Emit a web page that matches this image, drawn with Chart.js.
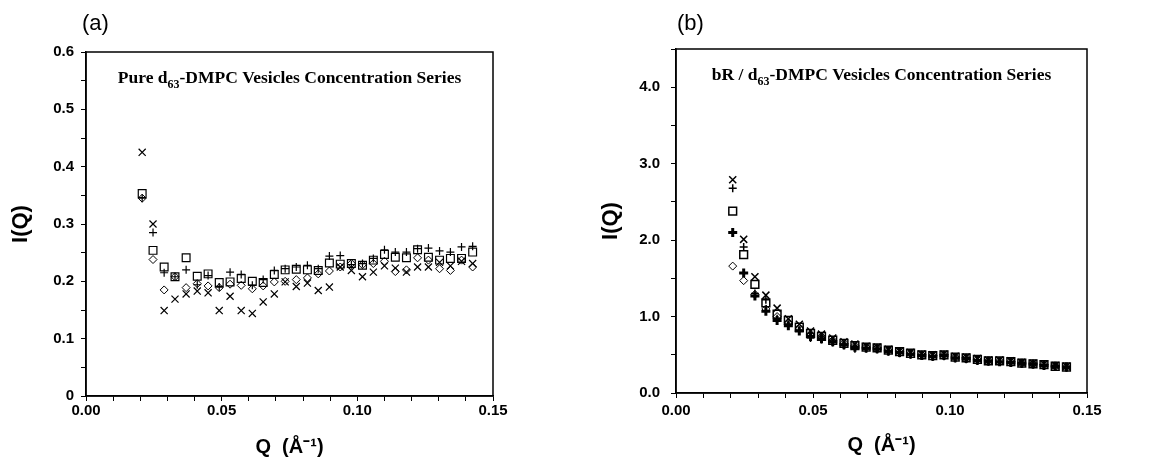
<!DOCTYPE html>
<html>
<head>
<meta charset="utf-8">
<script src="https://cdn.jsdelivr.net/npm/chart.js@4.4.0/dist/chart.umd.min.js"></script>
<style>
  body { margin: 0; background: #fff; width: 1155px; height: 460px; position: relative; overflow: hidden; }
  .panel { position: absolute; top: 0; height: 460px; }
  #wrapA { left: 0; width: 578px; }
  #wrapB { left: 578px; width: 577px; }
  .tag { position: absolute; top: 10px; font: 22px Arial, "Liberation Sans", sans-serif; line-height: 1.15; color: #000; }
</style>
</head>
<body>
<div class="panel" id="wrapA"><canvas id="chartA"></canvas></div>
<div class="panel" id="wrapB"><canvas id="chartB"></canvas></div>
<div class="tag" style="left:82px">(a)</div>
<div class="tag" style="left:677px">(b)</div>
<script>
// scattering vector Q (1/A), same for both panels
const Q = [0.0207, 0.0247, 0.0288, 0.0328, 0.0369, 0.0410, 0.0450, 0.0491, 0.0531, 0.0572,
  0.0613, 0.0653, 0.0694, 0.0734, 0.0775, 0.0816, 0.0856, 0.0897, 0.0937, 0.0978,
  0.1019, 0.1059, 0.1100, 0.1140, 0.1181, 0.1222, 0.1262, 0.1303, 0.1343, 0.1384, 0.1425];

// (a) pure d63-DMPC
const aCross = [0.425, 0.300, 0.149, 0.169, 0.178, 0.183, 0.180, 0.149, 0.174, 0.149, 0.144, 0.164, 0.178, 0.199, 0.191, 0.197,
  0.184, 0.190, 0.225, 0.219, 0.208, 0.216, 0.227, 0.223, 0.216, 0.225, 0.225, 0.233, 0.227, 0.235, 0.231];
const aPlus = [0.345, 0.285, 0.215, 0.208, 0.220, 0.194, 0.210, 0.190, 0.216, 0.212, 0.193, 0.203, 0.219, 0.222, 0.225, 0.228,
  0.222, 0.244, 0.245, 0.229, 0.231, 0.240, 0.255, 0.251, 0.251, 0.257, 0.258, 0.253, 0.251, 0.260, 0.261];
const aSquare = [0.353, 0.254, 0.225, 0.208, 0.241, 0.209, 0.213, 0.198, 0.199, 0.205, 0.200, 0.198, 0.212, 0.220, 0.221, 0.220,
  0.219, 0.232, 0.230, 0.231, 0.228, 0.237, 0.247, 0.242, 0.241, 0.255, 0.242, 0.237, 0.240, 0.240, 0.251];
const aDiamond = [0.345, 0.238, 0.185, 0.208, 0.189, 0.196, 0.192, 0.189, 0.195, 0.193, 0.187, 0.192, 0.199, 0.200, 0.203, 0.206,
  0.213, 0.218, 0.225, 0.231, 0.229, 0.231, 0.235, 0.217, 0.220, 0.241, 0.237, 0.222, 0.219, 0.237, 0.225];

// (b) bR / d63-DMPC
const bCross = [2.79, 2.01, 1.52, 1.28, 1.11, 0.97, 0.90, 0.81, 0.77, 0.72, 0.67, 0.64, 0.61, 0.60, 0.57, 0.55,
  0.53, 0.51, 0.50, 0.51, 0.48, 0.47, 0.45, 0.43, 0.43, 0.42, 0.40, 0.39, 0.38, 0.36, 0.35];
const bPlus = [2.68, 1.91, 1.30, 1.22, 0.97, 0.90, 0.82, 0.72, 0.70, 0.66, 0.62, 0.58, 0.58, 0.57, 0.54, 0.52,
  0.50, 0.49, 0.47, 0.48, 0.45, 0.44, 0.42, 0.41, 0.41, 0.40, 0.38, 0.37, 0.36, 0.34, 0.33];
const bSquare = [2.38, 1.81, 1.42, 1.18, 1.03, 0.95, 0.86, 0.78, 0.74, 0.69, 0.65, 0.62, 0.60, 0.59, 0.56, 0.54,
  0.52, 0.50, 0.49, 0.50, 0.47, 0.46, 0.44, 0.42, 0.42, 0.41, 0.39, 0.38, 0.37, 0.35, 0.34];
const bClover = [2.10, 1.57, 1.27, 1.07, 0.95, 0.88, 0.81, 0.74, 0.71, 0.67, 0.63, 0.60, 0.59, 0.58, 0.55, 0.53,
  0.51, 0.49, 0.48, 0.49, 0.46, 0.45, 0.43, 0.42, 0.41, 0.40, 0.39, 0.38, 0.36, 0.35, 0.34];
const bDiamond = [1.66, 1.47, 1.29, 1.10, 1.00, 0.92, 0.85, 0.77, 0.74, 0.69, 0.65, 0.62, 0.60, 0.59, 0.56, 0.54,
  0.52, 0.50, 0.49, 0.50, 0.47, 0.46, 0.44, 0.42, 0.42, 0.41, 0.39, 0.38, 0.37, 0.35, 0.34];

const SANS = 'Arial, "Liberation Sans", sans-serif';
const SERIF = '"Times New Roman", "Liberation Serif", serif';

const pts = ys => Q.map((q, i) => ({ x: q, y: ys[i] }));

function series(ys, style, r, w) {
  return {
    data: pts(ys),
    pointStyle: style,
    pointRadius: r,
    pointBorderWidth: w,
    borderColor: '#000',
    backgroundColor: 'rgba(0,0,0,0)'
  };
}

// box around the plot + title with subscript
const frame = {
  id: 'frame',
  afterDraw(chart, args, opts) {
    const { ctx, chartArea: { left, top, right, bottom } } = chart;
    ctx.save();
    ctx.strokeStyle = '#000';
    ctx.lineWidth = 1.5;
    ctx.strokeRect(left, top, right - left, bottom - top);

    const big = 'bold 17.5px ' + SERIF, small = 'bold 12px ' + SERIF;
    ctx.font = big;
    const w1 = ctx.measureText(opts.pre).width, w3 = ctx.measureText(opts.post).width;
    ctx.font = small;
    const w2 = ctx.measureText(opts.sub).width;
    let x = (left + right) / 2 - (w1 + w2 + w3) / 2;
    const y = top + 31;
    ctx.fillStyle = '#000';
    ctx.textBaseline = 'alphabetic';
    ctx.textAlign = 'left';
    ctx.font = big; ctx.fillText(opts.pre, x, y); x += w1;
    ctx.font = small; ctx.fillText(opts.sub, x, y + 5); x += w2;
    ctx.font = big; ctx.fillText(opts.post, x, y);
    ctx.restore();
  }
};

function scales(o) {
  const tickFont = { family: SANS, size: 15, weight: 'bold' };
  return {
    x: {
      type: 'linear', min: 0, max: 0.15,
      afterFit: s => { s.height = o.xh; },
      border: { color: '#000', width: 1.5 },
      grid: { drawOnChartArea: false, tickLength: 5, tickColor: '#000', tickWidth: 1 },
      ticks: {
        stepSize: 0.01, autoSkip: false, maxRotation: 0, padding: o.xpad, color: '#000', font: tickFont,
        callback: v => Math.round(v * 100) % 5 === 0 ? v.toFixed(2) : ''
      },
      title: { display: true, text: 'Q  (Å⁻¹)', color: '#000', font: { family: SANS, size: 20, weight: 'bold' }, padding: { top: 0, bottom: o.xtp } }
    },
    y: {
      type: 'linear', min: 0, max: o.ymax,
      afterFit: s => { s.width = o.yw; },
      border: { color: '#000', width: 1.5 },
      grid: { drawOnChartArea: false, tickLength: 5, tickColor: '#000', tickWidth: 1 },
      ticks: { stepSize: o.ystep, autoSkip: false, padding: o.ypad, color: '#000', font: tickFont, callback: o.ylab },
      title: { display: true, text: 'I(Q)', color: '#000', font: { family: SANS, size: 22, weight: 'bold' }, padding: { top: o.ytp, bottom: 0 } }
    }
  };
}

Chart.register(frame);

new Chart(document.getElementById('chartA'), {
  type: 'scatter',
  data: {
    datasets: [
      series(aDiamond, 'rectRot', 4, 1),
      series(aSquare, 'rect', 5.5, 1.2),
      series(aPlus, 'cross', 4, 1.2),
      series(aCross, 'crossRot', 5, 1.2)
    ]
  },
  options: {
    responsive: true, maintainAspectRatio: false, animation: false, events: [],
    layout: { padding: { left: 0, right: 85, top: 52, bottom: 0 } },
    plugins: {
      legend: { display: false }, tooltip: { enabled: false },
      frame: { pre: 'Pure d', sub: '63', post: '-DMPC Vesicles Concentration Series' }
    },
    scales: scales({
      xh: 64, xpad: 1, xtp: 1, yw: 86, ymax: 0.6, ystep: 0.05, ypad: 7, ytp: 8,
      ylab: v => { const k = Math.round(v * 100); return k % 10 === 0 ? (k === 0 ? '0' : v.toFixed(1)) : ''; }
    })
  }
});

new Chart(document.getElementById('chartB'), {
  type: 'scatter',
  data: {
    datasets: [
      series(bDiamond, 'rectRot', 4, 1),
      series(bClover, 'cross', 4.5, 3),
      series(bSquare, 'rect', 5.5, 1.5),
      series(bPlus, 'cross', 4, 1.5),
      series(bCross, 'crossRot', 5, 1.5)
    ]
  },
  options: {
    responsive: true, maintainAspectRatio: false, animation: false, events: [],
    layout: { padding: { left: 0, right: 68, top: 49, bottom: 0 } },
    plugins: {
      legend: { display: false }, tooltip: { enabled: false },
      frame: { pre: 'bR / d', sub: '63', post: '-DMPC Vesicles Concentration Series' }
    },
    scales: scales({
      xh: 67, xpad: 4, xtp: 3, yw: 98, ymax: 4.5, ystep: 0.5, ypad: 11, ytp: 20,
      ylab: v => { const k = Math.round(v * 10); return k % 10 === 0 ? v.toFixed(1) : ''; }
    })
  }
});
</script>
</body>
</html>
